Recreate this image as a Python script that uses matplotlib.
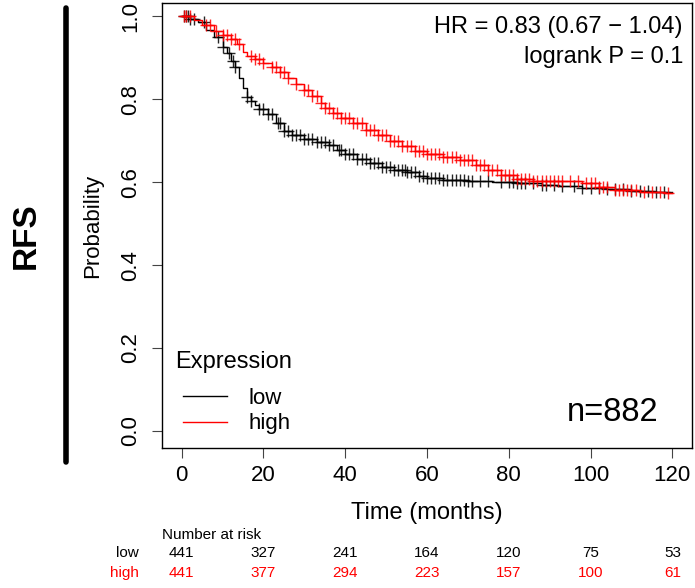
"""
KM plot: RFS by expression (low / high), with number-at-risk table
"""

import numpy as np
import matplotlib
matplotlib.use("Agg")
import matplotlib.pyplot as plt
from matplotlib.lines import Line2D
from matplotlib import transforms

plt.rcParams["font.family"] = ["Liberation Sans", "DejaVu Sans"]

# step curves (time in months, survival)
low_t = [0, 2, 4, 6, 8, 10, 11, 12, 13, 14, 15, 16, 17, 18, 19, 21, 23, 25, 27, 30,
         33, 36, 38, 40, 43, 46, 49, 52, 55, 58, 60, 64, 70, 76, 82, 88, 92, 98, 104,
         110, 116, 120]
low_s = [1.0, 0.993, 0.985, 0.967, 0.950, 0.925, 0.911, 0.893, 0.878, 0.852, 0.828,
         0.805, 0.795, 0.785, 0.776, 0.764, 0.742, 0.724, 0.714, 0.705, 0.697, 0.690,
         0.678, 0.668, 0.657, 0.645, 0.636, 0.630, 0.625, 0.615, 0.609, 0.605, 0.604,
         0.601, 0.599, 0.594, 0.590, 0.587, 0.583, 0.578, 0.576, 0.576]

high_t = [0, 3, 5, 8, 10, 12, 13.5, 15, 16, 18, 20, 22, 24, 26, 28, 30, 32, 34, 35,
          37, 39, 42, 45, 48, 51, 54, 57, 60, 64, 68, 72, 75, 78, 82, 86, 92, 98, 102,
          106, 112, 118, 120]
high_s = [1.0, 0.990, 0.978, 0.965, 0.955, 0.945, 0.932, 0.915, 0.905, 0.896, 0.888,
          0.877, 0.865, 0.850, 0.836, 0.823, 0.808, 0.790, 0.778, 0.766, 0.755, 0.742,
          0.725, 0.714, 0.700, 0.688, 0.675, 0.668, 0.661, 0.653, 0.641, 0.630, 0.618,
          0.608, 0.604, 0.603, 0.598, 0.588, 0.581, 0.577, 0.575, 0.575]

# censoring times (approximate, read from the + marks)
low_cens = [0.5, 1, 1.5, 2, 3, 5.5, 9, 10, 11.5, 12.5, 13, 16, 17, 19, 20, 21, 22,
            23.5, 24, 25, 26, 27, 28, 29, 30, 31, 32, 33, 34, 35, 36, 37, 38.5, 39,
            40, 41, 42, 43, 44, 45, 46, 47, 48, 49, 50, 51, 52, 53, 54, 54.5, 55, 56,
            57, 58, 59, 60, 61, 62, 63, 64, 65, 66, 67, 68, 69, 70, 71, 73, 75, 78,
            80, 81, 82, 83, 84, 86, 88, 89, 91, 93, 96, 98, 100, 102, 104, 106, 108,
            110, 112, 114, 116, 118]
high_cens = [0.5, 1, 2, 6, 7, 8.5, 10, 11, 12, 13, 14, 17, 18, 19, 20, 22, 23, 24,
             25, 26, 28, 30, 31, 32, 33, 34, 35, 36, 37, 38, 39, 40, 41, 42, 43, 44,
             45, 46, 47, 48, 49, 50, 51, 52, 53, 54, 55, 56, 57, 58, 59, 60, 61, 62,
             63, 64, 65, 66, 67, 68, 69, 70, 71, 72, 73, 74, 75, 76, 77, 78, 79, 80,
             81, 82, 83, 84, 85, 86, 87, 88, 89, 90, 91, 92, 93, 95, 97, 99, 100, 101,
             102, 103, 104, 106, 107, 108, 109, 110, 111, 113, 115, 117, 119]

risk_times = [0, 20, 40, 60, 80, 100, 120]
risk_low = [441, 327, 241, 164, 120, 75, 53]
risk_high = [441, 377, 294, 223, 157, 100, 61]

hr_text = "HR = 0.83 (0.67 \u2212 1.04)"
p_text = "logrank P = 0.1"
n_text = "n=882"


def step_at(t, s, x):
    idx = np.searchsorted(t, x, side="right") - 1
    return np.asarray(s)[idx]


fig = plt.figure(figsize=(6.95, 5.88), dpi=100)
ax = fig.add_axes([162 / 695, 140 / 588, 530 / 695, 445 / 588])

for t, s, cens, col in [(low_t, low_s, low_cens, "black"),
                        (high_t, high_s, high_cens, "#ff0000")]:
    ax.step(t, s, where="post", color=col, lw=1.0)
    ax.plot(cens, step_at(t, s, cens), ls="none", marker="+", ms=9, mew=1.0,
            color=col, alpha=0.85)

ax.set_xlim(-4.8, 124.8)
ax.set_ylim(-0.041, 1.032)
ax.set_xticks(risk_times)
ax.set_yticks(np.arange(0, 1.01, 0.2))
ax.set_yticklabels(["%.1f" % v for v in np.arange(0, 1.01, 0.2)], rotation=90,
                   va="center")
ax.tick_params(axis="both", direction="out", length=7, width=0.8, labelsize=16,
               color="#444444")
ax.tick_params(axis="y", pad=8)
ax.tick_params(axis="x", pad=5)
for sp in ax.spines.values():
    sp.set_linewidth(1.0)

ax.set_xlabel("Time (months)", fontsize=17)
ax.xaxis.label.set_va("center")
ax.xaxis.set_label_coords(0.5, (75 - 140) / 445)
ax.set_ylabel("Probability", fontsize=16)
ax.yaxis.label.set_va("center")
ax.yaxis.set_label_coords((93 - 162) / 530, 0.5)

ax.text(0.983, 0.946, hr_text, transform=ax.transAxes, ha="right", va="center",
        fontsize=17)
ax.text(0.983, 0.879, p_text, transform=ax.transAxes, ha="right", va="center",
        fontsize=17)
ax.text(0.936, 0.079, n_text, transform=ax.transAxes, ha="right", va="center",
        fontsize=23.5)

# legend: title as text, entries as a frameless legend
ax.text((175 - 162) / 530, (588 - 362 - 140) / 445, "Expression",
        transform=ax.transAxes, ha="left", va="center", fontsize=17)
handles = [Line2D([], [], color="black", lw=1.0),
           Line2D([], [], color="#ff0000", lw=1.0)]
ax.legend(handles, ["low", "high"], loc="upper left",
          bbox_to_anchor=((183 - 162) / 530, (588 - 388 - 140) / 445),
          frameon=False, fontsize=16, borderpad=0, borderaxespad=0,
          handlelength=2.0, handletextpad=0.95, labelspacing=0.2)

# number at risk
tr = transforms.blended_transform_factory(ax.transData, fig.transFigure)
fig.text(162 / 695, 1 - 535 / 588, "Number at risk", ha="left", va="center",
         fontsize=11)
fig.text(139 / 695, 1 - 553 / 588, "low", ha="right", va="center", fontsize=11)
fig.text(139 / 695, 1 - 573 / 588, "high", ha="right", va="center", fontsize=11,
         color="#ff0000")
for x, a, b in zip(risk_times, risk_low, risk_high):
    ax.text(x, 1 - 553 / 588, str(a), transform=tr, ha="center", va="center",
            fontsize=11)
    ax.text(x, 1 - 573 / 588, str(b), transform=tr, ha="center", va="center",
            fontsize=11, color="#ff0000")

# side label
fig.text(26 / 695, 1 - 236 / 588, "RFS", rotation=90, ha="center", va="center",
         fontsize=24, fontweight="bold")
fig.add_artist(Line2D([66 / 695, 66 / 695], [1 - 8 / 588, 1 - 462 / 588],
                      transform=fig.transFigure, color="black", lw=4,
                      solid_capstyle="round"))

fig.savefig("out.png", dpi=100)
